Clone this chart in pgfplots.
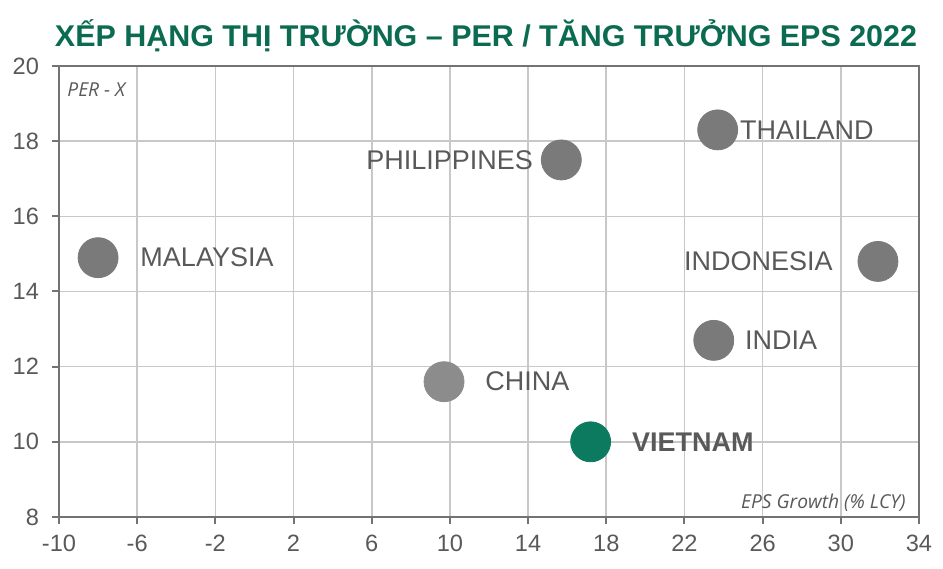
\documentclass[border=0pt]{standalone}
\usepackage{pgfplots}
\pgfplotsset{compat=1.18}
\usepackage{fontspec}
\setmainfont{Liberation Sans}
\newfontfamily\opensans{Open Sans}
\definecolor{titlegreen}{HTML}{0B6B50}
\definecolor{vngreen}{HTML}{0B7A5E}
\definecolor{dotgray}{HTML}{7A7A7A}
\definecolor{dotlight}{HTML}{8C8C8C}
\definecolor{txtgray}{HTML}{595959}
\definecolor{gridgray}{HTML}{C8C8C8}
\definecolor{axgray}{HTML}{737373}
\pgfplotsset{
  dot/.style={only marks, mark=*, mark size=10pt, color=#1,
    point meta=explicit symbolic, nodes near coords,
    every node near coord/.append style={font=\fontsize{13.5}{16}\selectfont, text=txtgray, inner sep=0pt}},
  labR/.style={nodes near coords style={anchor=west, xshift=#1}},
  labL/.style={nodes near coords style={anchor=east, xshift=-#1}},
}
\begin{document}
\begin{tikzpicture}
\path[use as bounding box] (0,0) rectangle (471.5pt,284pt);
\node[anchor=base, text=titlegreen, inner sep=0pt, font=\fontsize{15}{18}\selectfont\bfseries] at (243pt,260.5pt) {\resizebox{431pt}{\height}{XẾP HẠNG THỊ TRƯỜNG – PER / TĂNG TRƯỞNG EPS 2022}};
\begin{axis}[
  at={(29.5pt,25.5pt)}, anchor=south west,
  scale only axis, width=430pt, height=225.5pt,
  xmin=-10, xmax=34, ymin=8, ymax=20,
  xtick={-10,-6,...,34}, ytick={8,10,...,20},
  grid=major, major grid style={gridgray, line width=0.8pt},
  axis line style={axgray, line width=1pt},
  tick style={axgray, line width=1pt},
  tick align=outside, major tick length=3.5pt,
  xtick pos=bottom, ytick pos=left,
  ticklabel style={font=\fontsize{11.8}{13}\selectfont, text=txtgray},
  xticklabel style={yshift=-2pt},
  yticklabel style={xshift=-3pt},
  /pgf/number format/assume math mode=true,
  clip=false,
]
\addplot[dot=dotgray, labR=21pt] coordinates {(-8,14.9) [MALAYSIA]};
\addplot[dot=dotgray, labL=14pt] coordinates {(15.7,17.5) [PHILIPPINES]};
\addplot[dot=dotgray, labR=11pt] coordinates {(23.7,18.3) [THAILAND]};
\addplot[dot=dotgray, labL=22.5pt] coordinates {(31.9,14.8) [INDONESIA]};
\addplot[dot=dotgray, labR=15.5pt] coordinates {(23.5,12.7) [INDIA]};
\addplot[dot=dotlight, labR=20.5pt] coordinates {(9.7,11.6) [CHINA]};
\addplot[dot=vngreen, labR=20.5pt, every node near coord/.append style={font=\fontsize{13.5}{16}\selectfont\bfseries}] coordinates {(17.2,10.0) [VIETNAM]};
\node[anchor=base west, inner sep=0pt, text=txtgray, font=\opensans\itshape\fontsize{9.6}{11}\selectfont, xshift=4pt, yshift=-15.5pt] at (rel axis cs:0,1) {PER - X};
\node[anchor=base east, inner sep=0pt, text=txtgray, font=\opensans\itshape\fontsize{9.6}{11}\selectfont, xshift=-6.5pt, yshift=4.5pt] at (rel axis cs:1,0) {EPS Growth (\% LCY)};
\end{axis}
\end{tikzpicture}
\end{document}
